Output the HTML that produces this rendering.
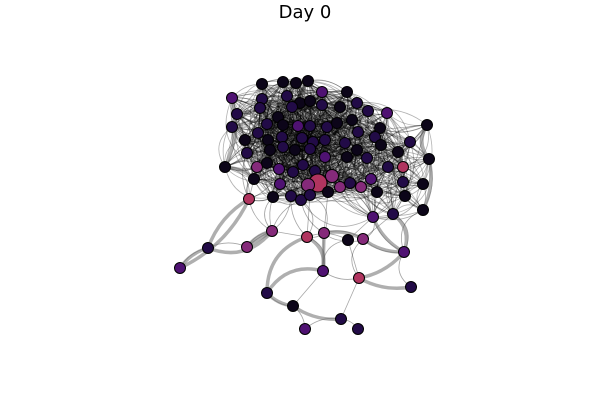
<!DOCTYPE html>
<html><head><meta charset="utf-8"><style>
body{margin:0;background:#fff;}
svg{display:block;font-family:"DejaVu Sans","Liberation Sans",sans-serif;}
</style></head><body>
<svg id="chart" width="600" height="400" viewBox="0 0 600 400">
<text x="305" y="18" text-anchor="middle" font-size="18" fill="#000">Day 0</text>
<g id="edges"></g>
<g id="thick"></g>
<g id="nodes"></g>
</svg>
<script>
const nodeX=[262,283,296,308,322,347,232,262,287,300,310,357,368,387,237,260,278,292,322,340,232,267,283,298,310,327,337,352,380,427,245,258,268,282,302,313,325,345,358,375,381,410,247,270,283,295,310,325,347,357,367,398,429,225,257,267,279,293,303,315,332,318,308,280,340,350,361,371,388,403,403,423,377,405,423,254,273,291,301,310,328,373,393,
249,272,247,208,180,307,324,348,363,404,323,359,411,267,293,341,305,358];
const nodeY=[84,82,83,81,92,92,98,99,96,103,101,103,111,113,114,108,117,107,105,107,127,124,125,126,126,127,123,120,128,125,140,133,140,137,138,142,140,143,132,137,145,142,153,150,147,150,149,157,157,150,158,152,159,167,167,163,169,172,165,171,176,183,185,184,187,183,187,179,167,167,182,184,192,196,210,179,197,196,200,195,192,217,214,
199,231,247,248,268,237,233,240,239,252,271,278,287,293,306,319,329,329];
const nodeC=['k','k','k','k','p','k','p','d','d','k','k','d','d','p','d','d','k','d','d','k','d','d','k','p','d','d','k','k','k','k','k','d','k','d','d','d','d','d','d','d','k','d','d','k','d','k','d','p','k','k','d','k','k','k','m','k','p','d','d','d','m','r','m','p','m','d','m','p','d','r','d','k','k','k','k','k','k','d','d','d','k','p','d',
'r','m','m','d','p','r','m','k','m','p','p','r','d','d','k','d','p','d'];
const palette={k:'#0c0519',d:'#220b47',p:'#4f1272',m:'#852a7a',r:'#b0345f'};
const thickA=[86,86,86,87,85,88,88,89,93,96,97,91,81,92,82,94,6,53,0,29,52,89,84];
const thickB=[87,83,84,83,84,96,93,93,96,97,98,92,92,94,92,95,53,75,7,52,74,91,85];
const NS='http://www.w3.org/2000/svg';
const eg=document.getElementById('edges'),tg=document.getElementById('thick'),ng=document.getElementById('nodes');
function curve(a,b,k){const x1=nodeX[a],y1=nodeY[a],x2=nodeX[b],y2=nodeY[b];
const mx=(x1+x2)/2,my=(y1+y2)/2,dx=x2-x1,dy=y2-y1;const s=((a*7+b*13)%5-2)*0.18*k;
return `M${x1},${y1} Q${mx-dy*s},${my+dx*s} ${x2},${y2}`;}
const N=nodeX.length;
for(let i=0;i<N;i++){for(let j=i+1;j<N;j++){const d=Math.hypot(nodeX[i]-nodeX[j],nodeY[i]-nodeY[j]);
const inC=(i<83&&j<83);const lim=inC?75:48;
if(d<lim){const p=document.createElementNS(NS,'path');
p.setAttribute('d',curve(i,j,1.3));p.setAttribute('fill','none');p.setAttribute('stroke',inC?'rgba(0,0,0,0.3)':'rgba(0,0,0,0.35)');p.setAttribute('stroke-width','0.8');


eg.appendChild(p);}}}
for(let i=0;i<thickA.length;i++){const p=document.createElementNS(NS,'path');
p.setAttribute('d',curve(thickA[i],thickB[i],1));p.setAttribute('fill','none');p.setAttribute('stroke','rgba(110,110,110,0.55)');p.setAttribute('stroke-width','3.5');


tg.appendChild(p);}
for(let i=0;i<N;i++){const c=document.createElementNS(NS,'circle');
c.setAttribute('cx',nodeX[i]);c.setAttribute('cy',nodeY[i]);
c.setAttribute('r',i===61?9:(i===60||i===62?6.5:5.5));
c.setAttribute('fill',palette[nodeC[i]]);c.setAttribute('stroke','#000');c.setAttribute('stroke-width','1');


ng.appendChild(c);}
</script>
</body></html>
